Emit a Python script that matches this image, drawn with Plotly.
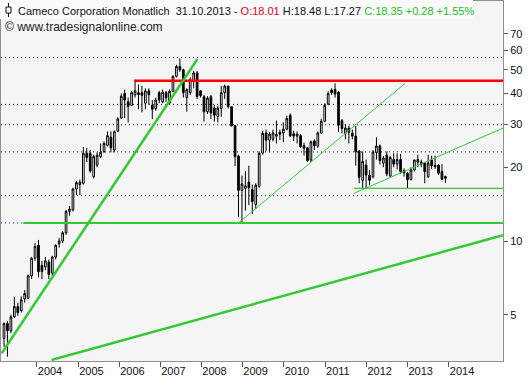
import plotly.graph_objects as go

# ---------------- data ----------------
opens = [4.0, 4.6, 4.3, 4.9, 5.4, 5.2, 5.8, 5.85, 7.2, 8.5,
         9.6, 7.95, 7.85, 8.2, 7.4, 8.6, 9.75, 10.0, 10.8, 13.2,
         13.4, 16.3, 17.0, 17.2, 22.8, 22.8, 18.3, 20.4, 22.1, 23.2,
         24.6, 26.5, 23.5, 28.1, 31.8, 40.0, 37.0, 35.8, 39.5, 40.3,
         40.3, 36.5, 41.0, 35.8, 34.7, 40.3, 37.0, 40.3, 36.5, 40.8,
         47.0, 51.6, 50.0, 38.5, 40.3, 44.8, 48.5, 41.0, 38.8, 33.7,
         38.8, 34.9, 32.2, 34.8, 40.3, 42.9, 35.3, 29.6, 22.2, 16.1,
         16.4, 17.4, 16.2, 14.1, 16.7, 22.8, 27.6, 25.8, 26.0, 26.8,
         27.8, 27.6, 28.6, 32.6, 27.4, 26.8, 26.9, 24.5, 24.0, 21.4,
         25.6, 24.4, 27.6, 30.8, 36.2, 41.3, 41.6, 40.5, 31.0, 27.5,
         28.9, 27.5, 26.8, 23.3, 17.7, 20.4, 18.6, 18.3, 23.0, 24.4,
         20.8, 22.4, 18.4, 21.5, 20.6, 21.5, 19.4, 18.9, 17.8, 19.5,
         21.5, 21.0, 20.8, 18.3, 21.4, 20.4, 20.4, 19.2, 18.01]
highs = [4.65, 4.7, 5.0, 5.9, 5.6, 5.95, 6.3, 7.3, 8.6, 9.8,
         10.1, 8.3, 8.6, 8.4, 8.7, 9.7, 10.3, 11.0, 13.4, 13.9,
         16.5, 17.6, 17.8, 24.2, 24.0, 23.5, 22.5, 23.0, 25.0, 25.5,
         28.0, 28.0, 28.3, 32.0, 40.0, 41.5, 38.5, 41.0, 45.5, 43.5,
         43.0, 42.0, 42.0, 37.6, 38.5, 41.0, 41.5, 41.0, 41.5, 47.5,
         52.4, 55.6, 50.5, 42.0, 46.5, 49.5, 49.5, 41.2, 39.5, 39.0,
         39.5, 36.0, 35.5, 43.0, 43.5, 43.0, 35.5, 29.8, 22.5, 18.5,
         19.3, 20.3, 17.0, 17.2, 23.2, 28.2, 28.5, 27.8, 28.5, 31.0,
         28.5, 30.5, 32.5, 33.2, 28.2, 28.0, 27.3, 25.2, 24.2, 25.7,
         26.0, 28.0, 31.5, 36.5, 40.8, 42.0, 44.0, 41.0, 31.5, 30.0,
         29.5, 28.5, 29.5, 23.5, 23.2, 21.5, 19.5, 23.5, 26.5, 24.8,
         22.2, 23.2, 22.2, 22.8, 22.8, 22.7, 19.8, 19.1, 20.0, 21.5,
         22.5, 21.5, 21.0, 22.5, 22.3, 22.3, 20.6, 20.6, 18.48]
lows = [3.7, 3.37, 4.2, 4.85, 4.95, 5.1, 5.6, 5.8, 7.0, 8.3,
        7.1, 7.0, 7.6, 7.0, 7.2, 8.4, 9.4, 9.8, 10.6, 12.7,
        13.2, 15.4, 15.4, 17.0, 21.0, 19.0, 18.0, 20.0, 21.8, 22.8,
        24.3, 23.0, 23.0, 27.8, 31.5, 31.8, 30.5, 35.5, 38.5, 34.5,
        33.5, 34.5, 36.0, 31.4, 34.0, 36.5, 36.5, 37.0, 36.3, 40.5,
        46.5, 49.0, 38.5, 33.7, 39.5, 42.0, 38.0, 38.5, 30.7, 33.0,
        31.5, 30.7, 30.5, 32.2, 38.0, 34.8, 29.4, 20.2, 12.5, 11.85,
        13.3, 14.0, 12.9, 13.5, 16.5, 22.5, 23.2, 23.0, 25.5, 25.0,
        25.8, 25.3, 28.3, 26.5, 25.6, 25.0, 24.0, 22.3, 21.0, 21.0,
        23.5, 24.0, 27.3, 30.5, 35.8, 39.5, 38.5, 27.9, 27.5, 26.0,
        25.0, 26.0, 20.3, 17.2, 16.4, 16.4, 16.9, 18.0, 21.5, 20.5,
        20.0, 18.4, 18.3, 20.0, 19.6, 18.8, 18.3, 16.3, 17.7, 19.2,
        20.0, 20.0, 17.2, 18.1, 19.7, 19.7, 18.6, 17.8, 17.27]
closes = [4.6, 4.3, 4.9, 5.4, 5.1, 5.75, 6.1, 7.2, 8.5, 9.5,
          7.5, 7.5, 8.3, 7.3, 8.6, 9.6, 10.0, 10.8, 13.2, 13.5,
          16.3, 17.3, 17.4, 22.8, 21.9, 19.3, 22.1, 22.4, 23.0, 25.0,
          26.9, 24.0, 27.9, 31.5, 39.0, 37.6, 35.4, 40.3, 41.0, 39.6,
          39.3, 41.0, 39.5, 34.5, 37.6, 37.6, 40.5, 38.4, 40.8, 47.0,
          51.6, 50.0, 40.3, 41.5, 45.5, 48.5, 38.8, 39.2, 33.7, 38.3,
          33.3, 32.6, 34.9, 40.3, 42.9, 35.4, 29.5, 22.1, 16.1, 17.1,
          16.8, 16.5, 14.5, 16.9, 22.8, 27.5, 25.8, 27.3, 27.6, 27.2,
          27.3, 28.6, 31.6, 26.9, 26.8, 27.3, 24.3, 23.9, 21.3, 25.4,
          24.5, 27.6, 30.8, 35.8, 40.0, 40.3, 39.8, 29.7, 28.8, 28.9,
          27.8, 26.8, 23.1, 18.2, 21.1, 18.6, 17.7, 23.1, 24.4, 21.3,
          21.8, 18.8, 21.9, 20.6, 21.5, 19.2, 19.0, 17.8, 19.5, 21.4,
          21.0, 20.6, 19.2, 20.8, 20.3, 20.1, 18.9, 17.85, 18.35]

year_labels = ["2004", "2005", "2006", "2007", "2008", "2009",
               "2010", "2011", "2012", "2013", "2014"]
year_tick_pos = [9.5, 21.5, 33.4, 45.3, 57.2, 69.1, 81.1, 93.1, 105.1, 117.0, 129.0]
price_ticks = [5, 10, 20, 30, 40, 50, 60, 70]

dotted_levels = [56.1, 36.1, 29.8, 23.1, 15.3]
support_level = 11.85          # thick green horizontal
resistance_level = 45.1        # red horizontal
low_2011_level = 16.4          # thin green horizontal

# trend lines: (bar index, price) end points
trend_long_up = ([-0.67, 56.1], [3.48, 55.3])
trend_from_2008 = ([68.0, 116.3], [11.85, 44.0])
trend_from_2011 = ([101.5, 144.7], [15.65, 28.9])
trend_bottom = ([13.8, 144.7], [3.27, 10.56])

# ---------------- layout geometry ----------------
W, H = 531, 380
ML, MR, MT, MB = 1, 28, 1, 19
PW, PH = W - ML - MR, H - MT - MB
X_RANGE = [-0.87, 144.7]
Y_RANGE = [0.5102, 1.9796]

def px(x):
    return (x - ML) / PW

def py(y):
    return (H - MB - y) / PH

GREEN = "#34c934"
fig = go.Figure()

# dotted level lines
for lv in dotted_levels:
    fig.add_trace(go.Scatter(x=X_RANGE, y=[lv, lv], mode="lines",
                             line=dict(color="#222222", width=1, dash="1px,3px"),
                             hoverinfo="skip", showlegend=False))
fig.add_trace(go.Scatter(x=X_RANGE, y=[support_level, support_level], mode="lines",
                         line=dict(color="#1a1acc", width=1, dash="1px,3px"),
                         hoverinfo="skip", showlegend=False))

# horizontal lines
fig.add_trace(go.Scatter(x=[5.6, X_RANGE[1]], y=[support_level, support_level], mode="lines",
                         line=dict(color=GREEN, width=2), hoverinfo="skip", showlegend=False))
fig.add_trace(go.Scatter(x=[37.8, X_RANGE[1]], y=[resistance_level, resistance_level], mode="lines",
                         line=dict(color="#ff0000", width=2.5), hoverinfo="skip", showlegend=False))
fig.add_trace(go.Scatter(x=[101.5, X_RANGE[1]], y=[low_2011_level, low_2011_level], mode="lines",
                         line=dict(color=GREEN, width=1.3), hoverinfo="skip", showlegend=False))

# trend lines
for (xs, ys), w in [(trend_long_up, 2.5), (trend_from_2008, 1), (trend_from_2011, 1), (trend_bottom, 2.5)]:
    fig.add_trace(go.Scatter(x=xs, y=ys, mode="lines", line=dict(color=GREEN, width=w),
                             hoverinfo="skip", showlegend=False))

fig.add_trace(go.Candlestick(
    x=list(range(len(closes))), open=opens, high=highs, low=lows, close=closes,
    increasing=dict(line=dict(color="black", width=1), fillcolor="white"),
    decreasing=dict(line=dict(color="black", width=1), fillcolor="black"),
    whiskerwidth=0, showlegend=False, hoverinfo="skip"))

FONT = "Liberation Sans, Arial, sans-serif"
fig.update_layout(
    width=W, height=H,
    margin=dict(l=ML, r=MR, t=MT, b=MB, pad=0),
    paper_bgcolor="white", plot_bgcolor="#f5f5f5",
    font=dict(family=FONT, size=11, color="#111111"),
    xaxis=dict(range=X_RANGE, showgrid=False, zeroline=False,
               tickmode="array", tickvals=year_tick_pos, ticktext=year_labels,
               ticks="outside", ticklen=5, tickcolor="#555555",
               ticklabelposition="outside right",
               showline=True, linecolor="#909090", linewidth=1, mirror=True,
               rangeslider=dict(visible=False), fixedrange=True),
    yaxis=dict(type="log", range=Y_RANGE, side="right", showgrid=False, zeroline=False,
               tickmode="array", tickvals=price_ticks, ticktext=[str(v) for v in price_ticks],
               ticks="outside", ticklen=4, tickcolor="#555555",
               showline=True, linecolor="#909090", linewidth=1, mirror=True,
               fixedrange=True),
    hovermode=False,
)

shapes = [
    dict(type="rect", xref="paper", yref="paper", x0=px(0), x1=px(473), y0=py(19), y1=py(0),
         fillcolor="#fbfbfb", line=dict(width=0), layer="above"),
    dict(type="line", xref="paper", yref="paper", x0=px(8.5), x1=px(8.5), y0=py(17), y1=py(3),
         line=dict(color="#111111", width=1), layer="above"),
    dict(type="rect", xref="paper", yref="paper", x0=px(6), x1=px(11), y0=py(13), y1=py(7),
         fillcolor="#fbfbfb", line=dict(color="#111111", width=1), layer="above"),
]
fig.update_layout(shapes=shapes)

header = ("Cameco Corporation Monatlich\u00a0\u00a031.10.2013 - "
          "<span style='color:#e8001c'>O:18.01</span> H:18.48 L:17.27 "
          "<span style='color:#22c022'>C:18.35 +0.28 +1.55%</span>")
fig.add_annotation(xref="paper", yref="paper", x=px(16), y=py(10.5), xanchor="left", yanchor="middle",
                   text=header, showarrow=False, font=dict(family=FONT, size=11, color="#111111"))
fig.add_annotation(xref="paper", yref="paper", x=px(3), y=py(27), xanchor="left", yanchor="middle",
                   text="© www.tradesignalonline.com", showarrow=False,
                   font=dict(family=FONT, size=12, color="#222222"))

fig.write_html("out.html")
